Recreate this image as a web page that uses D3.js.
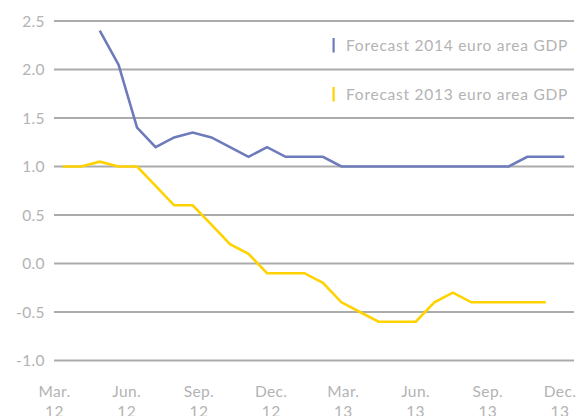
<!DOCTYPE html>
<html><head><meta charset="utf-8">
<script src="https://cdn.jsdelivr.net/npm/d3@7"></script>
<style>
html,body{margin:0;padding:0;background:#fff;}
svg{display:block;}
text{font-family:Lato,"Open Sans",sans-serif;fill:#b3b3b3;}
</style></head>
<body>
<svg id="chart" width="578" height="416"></svg>
<script>
// Forecast publication positions, in months since March 2012
const obsMonths = [0.34,1.11,1.88,2.66,3.43,4.20,4.97,5.74,6.52,7.29,8.06,8.83,9.60,10.38,
  11.15,11.92,12.69,13.46,14.24,15.01,15.78,16.55,17.32,18.10,18.87,19.64,20.41,21.18];
const forecast2014 = [null,null,2.4,2.05,1.4,1.2,1.3,1.35,1.3,1.2,1.1,1.2,1.1,1.1,
  1.1,1.0,1.0,1.0,1.0,1.0,1.0,1.0,1.0,1.0,1.0,1.1,1.1,1.1];
const forecast2013 = [1.0,1.0,1.05,1.0,1.0,0.8,0.6,0.6,0.4,0.2,0.1,-0.1,-0.1,-0.1,
  -0.2,-0.4,-0.5,-0.6,-0.6,-0.6,-0.4,-0.3,-0.4,-0.4,-0.4,-0.4,-0.4,null];
const xTickMonths = [0,3,6,9,12,15,18,21];
const xTickLabels = [["Mar.","12"],["Jun.","12"],["Sep.","12"],["Dec.","12"],
  ["Mar.","13"],["Jun.","13"],["Sep.","13"],["Dec.","13"]];
const yTicks = [-1.0,-0.5,0.0,0.5,1.0,1.5,2.0,2.5];
const seriesNames = ["Forecast 2014 euro area GDP","Forecast 2013 euro area GDP"];
const seriesColors = ["#6d7bbb","#ffd200"];

const svg = d3.select("#chart");
const x = d3.scaleLinear().domain([0,21]).range([54.5,560]);
const y = d3.scaleLinear().domain([-1,2.5]).range([360.5,21]);
const gridLeft = 54, gridRight = 574;

const loc = d3.formatLocale({decimal:".",thousands:",",grouping:[3],currency:["",""],minus:"-"});
const fmt = loc.format(".1f");

// grid lines
svg.append("g").selectAll("line").data(yTicks).join("line")
  .attr("x1",gridLeft).attr("x2",gridRight)
  .attr("y1",d=>y(d)).attr("y2",d=>y(d))
  .attr("stroke","#ababab").attr("stroke-width",2);

// y labels
svg.append("g").selectAll("text").data(yTicks).join("text")
  .attr("x",45).attr("y",d=>y(d)).attr("dy","0.36em")
  .attr("text-anchor","end").attr("font-size",15.5).attr("letter-spacing",0.4)
  .text(d=>fmt(d));

// x labels
const xl = svg.append("g").selectAll("text").data(xTickMonths).join("text")
  .attr("x",d=>x(d)).attr("y",397).attr("text-anchor","middle").attr("font-size",15.5)
  .attr("letter-spacing",0.4);
xl.append("tspan").attr("x",d=>x(d)).text((d,i)=>xTickLabels[i][0]);
xl.append("tspan").attr("x",d=>x(d)).attr("dy",20).text((d,i)=>xTickLabels[i][1]);

// lines
const series = [forecast2014, forecast2013];
const line = d3.line().defined(d=>d[1]!=null).x(d=>x(d[0])).y(d=>y(d[1]));
series.slice().reverse().forEach((s,ri)=>{
  const i = series.length-1-ri;
  svg.append("path").datum(obsMonths.map((m,k)=>[m,s[k]]))
    .attr("fill","none").attr("stroke",seriesColors[i]).attr("stroke-width",2.6)
    .attr("stroke-linejoin","miter").attr("d",line);
});

// legend
const legY = [45, 94];
seriesNames.forEach((n,i)=>{
  svg.append("rect").attr("x",332.5).attr("y",legY[i]-7).attr("width",2.2).attr("height",14.5)
    .attr("fill",seriesColors[i]);
  svg.append("text").attr("x",346).attr("y",legY[i]).attr("dy","0.36em")
    .attr("font-size",15.5).attr("letter-spacing",0.75).text(n);
});
</script>
</body></html>
